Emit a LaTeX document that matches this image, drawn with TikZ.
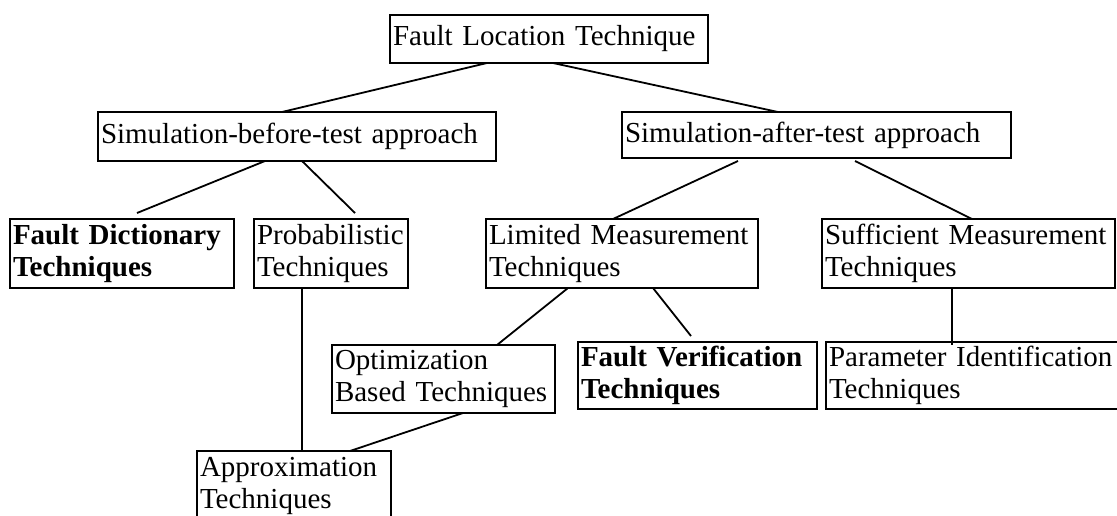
\documentclass[tikz,border=0pt]{standalone}
\usepackage{fontspec}
\setmainfont{Liberation Serif}
\usetikzlibrary{calc}
\begin{document}
\begin{tikzpicture}[x=1pt,y=-1pt,
  box/.style={draw, line width=1.8pt, inner xsep=3pt, inner ysep=0pt, outer sep=0pt,
    align=left, anchor=north west, font=\fontsize{29}{32}\selectfont},
  link/.style={line width=1.8pt}]
\clip (0,0) rectangle (1117,515);
\node[box, text width=312, minimum height=48] (A) at (390,15) {Fault Location Technique};
\node[box, text width=392, minimum height=49] (B) at (98,112) {Simulation-before-test approach};
\node[box, text width=383, minimum height=46] (F) at (622,112) {Simulation-after-test approach};
\node[box, text width=218, minimum height=69] (C) at (10,219) {\textbf{Fault Dictionary}\\\textbf{Techniques}};
\node[box, text width=148, minimum height=69] (D) at (254,219) {Probabilistic\\Techniques};
\node[box, text width=266, minimum height=69] (E) at (486,219) {Limited Measurement\\Techniques};
\node[box, text width=287, minimum height=69] (G) at (822,219) {Sufficient Measurement\\Techniques};
\node[box, text width=217, minimum height=68] (H) at (332,345) {Optimization\\Based Techniques};
\node[box, text width=233, minimum height=67] (I) at (578,342) {\textbf{Fault Verification}\\\textbf{Techniques}};
\node[box, text width=294, minimum height=67] (J) at (826,342) {Parameter Identification\\Techniques};
\node[box, text width=188, minimum height=69] (K) at (197,451) {Approximation\\Techniques};
\draw[link] ($(A.south west)+(97,0)$) -- ($(B.north west)+(184,0)$);
\draw[link] ($(A.south west)+(163,0)$) -- ($(F.north west)+(156,0)$);
\draw[link] ($(B.south west)+(167,0)$) -- ($(C.north west)+(127,-6)$);
\draw[link] ($(B.south west)+(204,0)$) -- ($(D.north west)+(101,-6)$);
\draw[link] ($(F.south west)+(116,3)$) -- ($(E.north west)+(127,0)$);
\draw[link] ($(F.south west)+(233,3)$) -- ($(G.north west)+(150,0)$);
\draw[link] ($(E.south west)+(82,0)$) -- ($(H.north west)+(165,0)$);
\draw[link] ($(E.south west)+(167,0)$) -- ($(I.north west)+(113,-6)$);
\draw[link] ($(D.south west)+(48,0)$) -- ($(K.north west)+(105,0)$);
\draw[link] ($(H.south west)+(131,0)$) -- ($(K.north west)+(153,0)$);
\draw[link] ($(G.south west)+(130,0)$) -- ($(J.north west)+(126,3)$);
\end{tikzpicture}
\end{document}
